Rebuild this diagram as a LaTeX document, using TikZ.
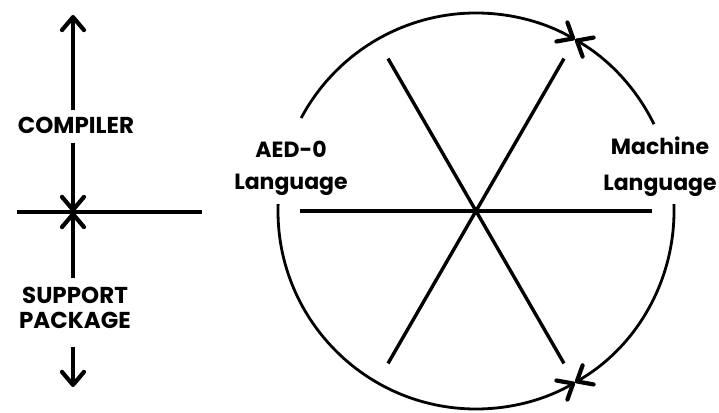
\documentclass[tikz,border=0pt]{standalone}
\usepackage{fontspec}
\setmainfont{Poppins}
\usetikzlibrary{arrows.meta}
\begin{document}
\begin{tikzpicture}[x=1pt,y=1pt,
  ln/.style={line width=3.4pt},
  rim/.style={line width=2.8pt},
  tip/.style={-{Straight Barb[length=13pt,width=22pt,line width=4.2pt,round]}},
  lbl/.style={font=\fontsize{22}{25}\selectfont\bfseries, inner sep=0pt, align=center},
  caps/.style={lbl,font=\fontsize{23}{25}\selectfont\bfseries}]
\useasboundingbox (0,0) rectangle (719,412);
% left diagram
\coordinate (L) at (17,200);
\coordinate (R) at (202,200);
\coordinate (X) at (73,200);
\coordinate (T0) at (73,302);
\coordinate (T1) at (73,397);
\coordinate (U0) at (73,269);
\coordinate (D0) at (73,134);
\coordinate (B0) at (73,65);
\coordinate (B1) at (73,25);
\draw[ln] (L) -- (R);
\draw[ln,tip] (T0) -- (T1);
\draw[ln,tip] (U0) -- (X);
\draw[ln,tip] (D0) -- (X);
\draw[ln,tip] (B0) -- (B1);
\node[caps] (comp) at (76,287) {COMPILER};
\node[caps] (supp) at (75,104) {SUPPORT\\PACKAGE};
% wheel
\coordinate (O) at (476,201);
\foreach \a in {0,60,...,300} {\path (O) +(\a:176) coordinate (s\a);}
\draw[ln] (s0) -- (s180);
\draw[ln] (s60) -- (s240);
\draw[ln] (s120) -- (s300);
\path (O) +(152:198) coordinate (c152);
\path (O) +(26:198) coordinate (c26);
\path (O) +(2:198) coordinate (c2);
\path (O) +(178:198) coordinate (c178);
\draw[rim,tip] (c152) arc[start angle=152,end angle=60,radius=198];
\draw[rim,tip] (c26) arc[start angle=26,end angle=60,radius=198];
\draw[rim,tip] (c2) arc[start angle=2,end angle=-60,radius=198];
\draw[rim,tip] (c178) arc[start angle=178,end angle=300,radius=198];
\node[lbl] (aed) at (291,244) {AED-0\\[7pt]Language};
\node[lbl] (mach) at (660,245) {Machine\\[11pt]Language};
\end{tikzpicture}
\end{document}
